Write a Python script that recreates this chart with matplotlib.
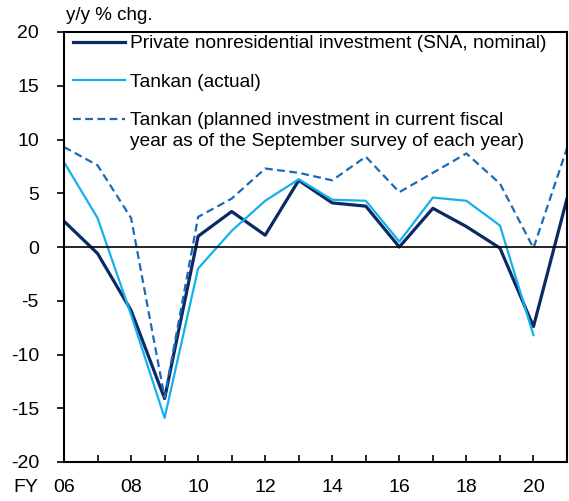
import numpy as np
import matplotlib
matplotlib.use('Agg')
import matplotlib.pyplot as plt

plt.rcParams['font.family'] = ['Liberation Sans', 'DejaVu Sans']
plt.rcParams['axes.unicode_minus'] = False

# Fiscal years
years = np.arange(2006, 2022)

# Private nonresidential investment (SNA, nominal), y/y % chg.
sna = [2.4, -0.6, -5.9, -14.1, 1.0, 3.3, 1.1, 6.2, 4.1, 3.8, 0.0, 3.6, 1.9, -0.1, -7.4, 4.5]

# Tankan (actual)
tankan_actual = [7.9, 2.7, -6.3, -15.9, -2.0, 1.5, 4.3, 6.3, 4.4, 4.3, 0.5, 4.6, 4.3, 2.0, -8.2, np.nan]

# Tankan (planned investment as of the September survey)
tankan_plan = [9.3, 7.6, 2.7, -14.0, 2.8, 4.5, 7.3, 6.9, 6.2, 8.4, 5.1, 6.9, 8.7, 5.9, -0.1, 9.2]

# Creates the figure and its axis
fig = plt.figure(figsize=(5.69, 5.01), dpi=100)
ax = fig.add_axes([64 / 569, 1 - 462 / 501, 503 / 569, 430 / 501])

# Draws the series
ax.plot(years, sna, color='#0b2a64', lw=2.3,
        label='Private nonresidential investment (SNA, nominal)')
ax.plot(years, tankan_actual, color='#13b1ec', lw=1.6, label='Tankan (actual)')
ax.plot(years, tankan_plan, color='#1a6ab8', lw=1.6, ls=(0, (3.5, 2)),
        label='Tankan (planned investment in current fiscal')

# Zero line
ax.axhline(0, color='black', lw=1.2)

# Axis properties
ax.set_xlim(2006, 2021)
ax.set_ylim(-20, 20)
ax.set_yticks(np.arange(-20, 21, 5))
ax.set_xticks(years[:-1])
ax.set_xticklabels([f'{y % 100:02d}' if (y - 2006) % 2 == 0 else '' for y in years[:-1]])
ax.tick_params(axis='x', direction='in', length=5, width=1.2, labelsize=14, pad=12)
ax.tick_params(axis='y', direction='out', length=5, width=1.2, labelsize=14, pad=13)
for spine in ax.spines.values():
    spine.set_linewidth(1.5)

# Labels
fig.text(66 / 569, 1 - 16 / 501, 'y/y % chg.', fontsize=13.5, va='center', ha='left')
fig.text(13 / 569, 1 - 488 / 501, 'FY', fontsize=14, va='center', ha='left')

# Legend
leg = ax.legend(loc='upper left', frameon=False, fontsize=13.8, handlelength=2.7,
                handletextpad=0.3, labelspacing=1.1, borderaxespad=0, borderpad=0,
                bbox_to_anchor=(9 / 503, 1 - 3 / 430))

# Second line of the planned-investment label
fig.text(130 / 569, 1 - 141 / 501, 'year as of the September survey of each year)',
         fontsize=13.8, va='center', ha='left')

fig.savefig('out.png', dpi=100)
